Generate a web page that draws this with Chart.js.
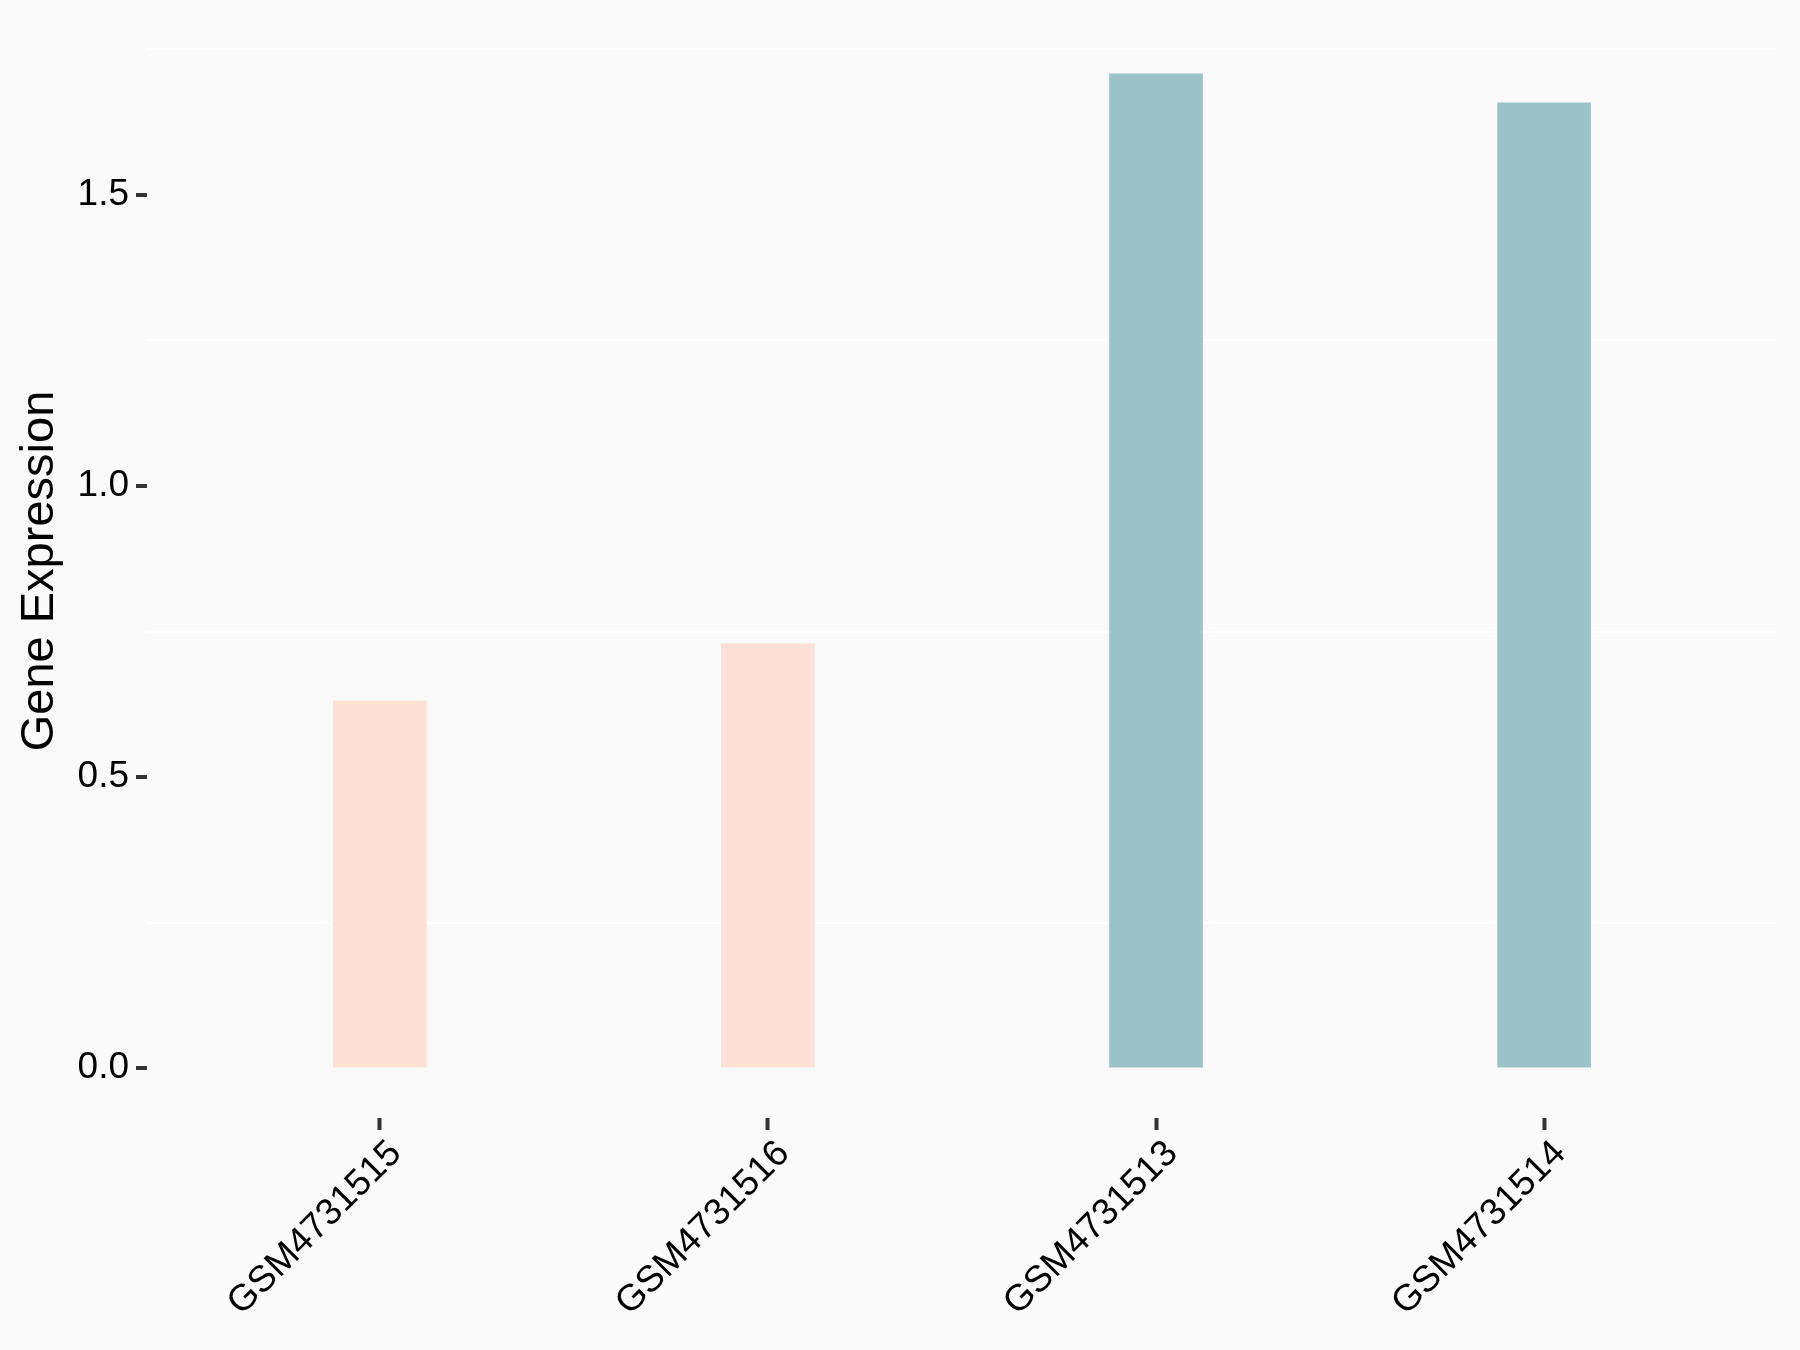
<!DOCTYPE html>
<html lang="en">
<head>
    <meta charset="UTF-8">
    <title>Gene Expression</title>
    <style>
        html, body { margin: 0; padding: 0; background: #FAFAFA; }
        #chart { display: block; }
    </style>
    <script src="https://cdn.jsdelivr.net/npm/chart.js"></script>
</head>
<body>
    <canvas id="chart" width="1800" height="1350"></canvas>

    <script>
        // data
        const samples = ['GSM4731515', 'GSM4731516', 'GSM4731513', 'GSM4731514'];
        const expression = [0.631, 0.729, 1.708, 1.658];
        const yTicks = [0, 0.25, 0.5, 0.75, 1.0, 1.25, 1.5, 1.75];
        const yLabelled = [0, 0.5, 1.0, 1.5];

        const barColors = ['#FEE0D6', '#FEE0D6', '#9CC4C8', '#9CC4C8'];
        const FONT = "'Liberation Sans', Arial, sans-serif";

        const isMajor = v => yLabelled.some(m => Math.abs(m - v) < 1e-9);

        new Chart(document.getElementById('chart').getContext('2d'), {
            type: 'bar',
            data: {
                datasets: [{
                    data: samples.map((s, i) => ({ x: i + 1, y: expression[i] })),
                    backgroundColor: barColors,
                    borderWidth: 0,
                    barThickness: 93
                }]
            },
            options: {
                responsive: false,
                animation: false,
                events: [],
                layout: { padding: { top: 24, right: 23, left: 0, bottom: 0 } },
                plugins: { legend: { display: false }, tooltip: { enabled: false } },
                scales: {
                    x: {
                        type: 'linear',
                        min: 0.4,
                        max: 4.6,
                        offset: false,
                        afterBuildTicks: s => { s.ticks = samples.map((n, i) => ({ value: i + 1 })); },
                        afterFit: s => {
                            s.height = 232;
                            s.paddingLeft = 0;
                            s.paddingRight = 0;
                        },
                        border: { display: false },
                        grid: {
                            offset: false,
                            drawOnChartArea: false,
                            drawTicks: true,
                            tickLength: 12,
                            tickWidth: 4,
                            tickColor: '#333333'
                        },
                        ticks: {
                            autoSkip: false,
                            minRotation: 45,
                            maxRotation: 45,
                            padding: 2,
                            labelOffset: 16,
                            color: '#000000',
                            font: { family: FONT, size: 37 },
                            callback: v => samples[Math.round(v) - 1]
                        }
                    },
                    y: {
                        min: -0.0854,
                        max: 1.7934,
                        afterBuildTicks: s => { s.ticks = yTicks.map(v => ({ value: v })); },
                        afterFit: s => {
                            s.width = 147;
                            s.paddingTop = 0;
                            s.paddingBottom = 0;
                        },
                        border: { display: false },
                        grid: {
                            drawOnChartArea: true,
                            drawTicks: true,
                            lineWidth: 2,
                            color: c => isMajor(c.tick.value) ? 'rgba(0,0,0,0)' : '#FFFFFF',
                            tickLength: 11,
                            tickWidth: 4,
                            tickColor: c => isMajor(c.tick.value) ? '#333333' : 'rgba(0,0,0,0)'
                        },
                        ticks: {
                            autoSkip: false,
                            padding: 7,
                            color: '#000000',
                            font: { family: FONT, size: 37 },
                            callback: v => isMajor(v) ? v.toFixed(1) : ''
                        },
                        title: {
                            display: true,
                            text: 'Gene Expression',
                            color: '#000000',
                            font: { family: FONT, size: 47 },
                            padding: { top: 12, bottom: 0 }
                        }
                    }
                }
            }
        });
    </script>
</body>
</html>
